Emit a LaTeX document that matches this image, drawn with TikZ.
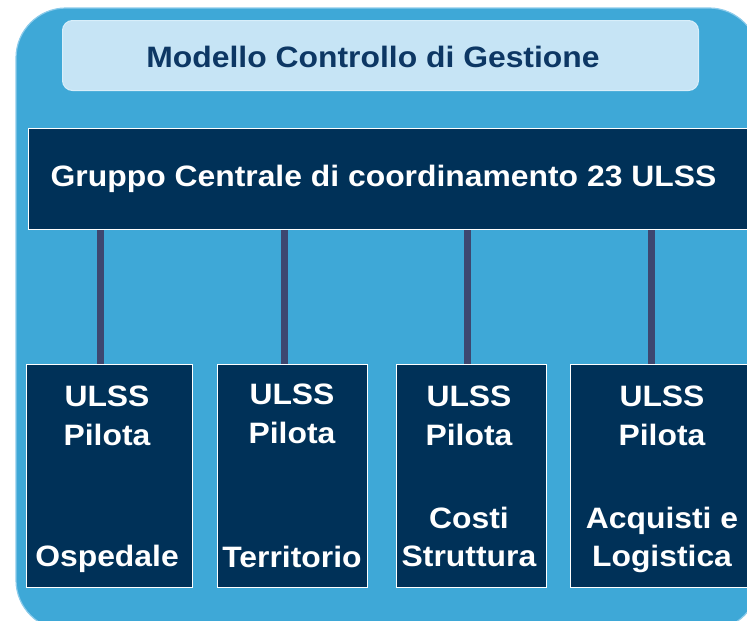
\documentclass[tikz,border=0pt]{standalone}
\usepackage{fontspec}
\setmainfont{Liberation Sans}[FakeStretch=1.08]
\definecolor{outerblue}{HTML}{3EA8D7}
\definecolor{outeredge}{HTML}{8CCBEA}
\definecolor{lightbox}{HTML}{C6E4F5}
\definecolor{lightedge}{HTML}{D8EEFA}
\definecolor{navy}{HTML}{003158}
\definecolor{titletext}{HTML}{0D3764}
\definecolor{conn}{HTML}{3D4770}
\begin{document}
\begin{tikzpicture}[x=1pt,y=-1pt,
  outer/.style={fill=outerblue,draw=outeredge,line width=1.2pt,rounded corners=50pt},
  headbox/.style={fill=lightbox,draw=lightedge,line width=1pt,rounded corners=10pt},
  navybox/.style={fill=navy,draw=white,line width=1.2pt},
  conline/.style={draw=conn,line width=7pt},
  whitetxt/.style={text=white,font=\fontsize{29.5}{34}\selectfont\bfseries,anchor=base,inner sep=0pt},
  titletxt/.style={text=titletext,font=\fontsize{29.5}{34}\selectfont\bfseries,anchor=base,inner sep=0pt}
]
\useasboundingbox (0,0) rectangle (747,621);
\clip (0,0) rectangle (747,621);
% outer panel
\path[outer] (16,8) rectangle (759,630);
% header
\node[headbox,minimum width=636pt,minimum height=70pt,anchor=north west,inner sep=0pt] (head) at (62,20) {};
\node[titletxt] (headtxt) at (373,67) {Modello Controllo di Gestione};
% central bar
\node[navybox,minimum width=760pt,minimum height=101pt,anchor=north west,inner sep=0pt] (bar) at (28,128) {};
\node[whitetxt] (bartxt) at (383.5,186) {Gruppo Centrale di coordinamento 23 ULSS};
% pilot boxes
\node[navybox,minimum width=166pt,minimum height=223pt,anchor=north west,inner sep=0pt] (b1) at (26,364) {};
\node[navybox,minimum width=150pt,minimum height=223pt,anchor=north west,inner sep=0pt] (b2) at (217,364) {};
\node[navybox,minimum width=150pt,minimum height=223pt,anchor=north west,inner sep=0pt] (b3) at (396,364) {};
\node[navybox,minimum width=184pt,minimum height=223pt,anchor=north west,inner sep=0pt] (b4) at (570,364) {};
% connector positions
\coordinate (c1) at (100,0);
\coordinate (c2) at (284,0);
\coordinate (c3) at (467,0);
\coordinate (c4) at (651,0);
\draw[conline] (c1 |- bar.south) -- (c1 |- b1.north);
\draw[conline] (c2 |- bar.south) -- (c2 |- b2.north);
\draw[conline] (c3 |- bar.south) -- (c3 |- b3.north);
\draw[conline] (c4 |- bar.south) -- (c4 |- b4.north);
% box texts
\node[whitetxt] (t1a) at (107,406) {ULSS};
\node[whitetxt] (t1b) at (107,445) {Pilota};
\node[whitetxt] (t1c) at (107,566) {Ospedale};
\node[whitetxt] (t2a) at (292,404) {ULSS};
\node[whitetxt] (t2b) at (292,443) {Pilota};
\node[whitetxt] (t2c) at (292,567) {Territorio};
\node[whitetxt] (t3a) at (469,406) {ULSS};
\node[whitetxt] (t3b) at (469,445) {Pilota};
\node[whitetxt] (t3c) at (469,528) {Costi};
\node[whitetxt] (t3d) at (469,566) {Struttura};
\node[whitetxt] (t4a) at (662,406) {ULSS};
\node[whitetxt] (t4b) at (662,445) {Pilota};
\node[whitetxt] (t4c) at (662,528) {Acquisti e};
\node[whitetxt] (t4d) at (662,566) {Logistica};
\end{tikzpicture}
\end{document}
